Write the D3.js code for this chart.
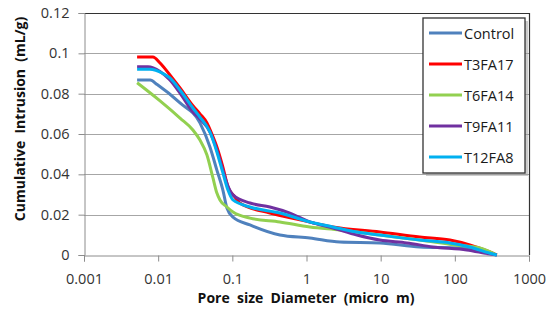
<!DOCTYPE html>
<html>
<head>
<meta charset="utf-8">
<script src="https://cdn.jsdelivr.net/npm/d3@7"></script>
<style>
  body { margin: 0; background: #fff; }
  text { font-family: "Open Sans", "Noto Sans", sans-serif; white-space: pre; }
</style>
</head>
<body>
<script>
// series names and colours
var names = ['Control', 'T3FA17', 'T6FA14', 'T9FA11', 'T12FA8'];
var colors = ['#4F81BD', '#FF0000', '#92D050', '#7030A0', '#00B0F0'];

// pore diameter (micro m) and cumulative intrusion (mL/g)
var control = [[0.0052, 0.0868], [0.0078, 0.0868], [0.0097, 0.0845], [0.0197, 0.0754], [0.0366, 0.0655],
  [0.0499, 0.0536], [0.0619, 0.0421], [0.0746, 0.0322], [0.0845, 0.0233], [0.102, 0.0188],
  [0.173, 0.0149], [0.438, 0.0099], [1.11, 0.0084], [2.82, 0.0064], [9.75, 0.0060],
  [33.7, 0.0040], [117, 0.0035], [296, 0.0010], [368, 0]];
var t3fa17 = [[0.0052, 0.0982], [0.0085, 0.0982], [0.0106, 0.0952], [0.0144, 0.0893], [0.0197, 0.0828],
  [0.0294, 0.0740], [0.0366, 0.0700], [0.0455, 0.0655], [0.0530, 0.0600], [0.0619, 0.0536],
  [0.0746, 0.0436], [0.0873, 0.0337], [0.108, 0.0288], [0.126, 0.0258], [0.321, 0.0208],
  [0.815, 0.0174], [2.27, 0.0139], [9.75, 0.0114], [33.7, 0.0089], [85.7, 0.0074],
  [159, 0.0050], [296, 0.0015], [368, 0]];
var t6fa14 = [[0.0052, 0.0854], [0.0106, 0.0764], [0.0197, 0.0679], [0.0294, 0.0620], [0.0366, 0.0570],
  [0.0455, 0.0496], [0.0548, 0.0382], [0.0619, 0.0307], [0.0681, 0.0273], [0.0845, 0.0238],
  [0.102, 0.0213], [0.173, 0.0183], [0.438, 0.0164], [1.11, 0.0139], [2.82, 0.0124],
  [9.75, 0.0099], [33.7, 0.0074], [100, 0.0050], [217, 0.0035], [368, 0]];
var t9fa11 = [[0.0052, 0.0934], [0.0073, 0.0934], [0.0106, 0.0910], [0.0144, 0.0868], [0.0197, 0.0803],
  [0.0294, 0.0709], [0.0366, 0.0674], [0.0499, 0.0610], [0.0619, 0.0521], [0.0746, 0.0421],
  [0.0873, 0.0342], [0.102, 0.0298], [0.173, 0.0258], [0.321, 0.0238], [0.597, 0.0208],
  [1.11, 0.0164], [2.27, 0.0134], [4.78, 0.0099], [9.75, 0.0074], [22.5, 0.0060],
  [50.5, 0.0040], [145, 0.0025], [296, 0.0005], [368, 0]];
var t12fa8 = [[0.0052, 0.0921], [0.0077, 0.0921], [0.0116, 0.0900], [0.0144, 0.0878], [0.0197, 0.0818],
  [0.0294, 0.0729], [0.0366, 0.0684], [0.0499, 0.0610], [0.0619, 0.0511], [0.0746, 0.0407],
  [0.0873, 0.0322], [0.102, 0.0273], [0.173, 0.0238], [0.438, 0.0208], [1.11, 0.0164],
  [2.27, 0.0139], [4.78, 0.0114], [9.75, 0.0099], [33.7, 0.0074], [85.7, 0.0060],
  [159, 0.0040], [325, 0.0005], [368, 0]];
var series = [control, t3fa17, t6fa14, t9fa11, t12fa8];

// tick values
var xTicks = [0.001, 0.01, 0.1, 1, 10, 100, 1000];
var yTicks = [0, 0.02, 0.04, 0.06, 0.08, 0.1, 0.12];

var w = 558, h = 320;
var pLeft = 84, pRight = 529, pTop = 13, pBottom = 255;

var svg = d3.select('body').append('svg')
    .attr('width', w)
    .attr('height', h);

var x = d3.scaleLog().domain([0.001, 1000]).range([pLeft, pRight]);
var y = d3.scaleLinear().domain([0, 0.12]).range([pBottom, pTop]);

// gridlines
svg.selectAll('line.grid')
    .data(yTicks.slice(1, -1))
    .enter()
    .append('line')
    .attr('x1', pLeft).attr('x2', pRight)
    .attr('y1', function(d){ return Math.round(y(d)) + 0.5; })
    .attr('y2', function(d){ return Math.round(y(d)) + 0.5; })
    .attr('stroke', '#a6a6a6')
    .attr('stroke-width', 1);

// plot frame top / right
svg.append('path')
    .attr('d', 'M' + pLeft + ',' + (pTop + 0.5) + 'H' + (pRight + 0.5) + 'V' + pBottom)
    .attr('fill', 'none')
    .attr('stroke', '#333')
    .attr('stroke-width', 1.2);

// axes
var yAxis = d3.axisLeft(y).tickValues(yTicks).tickSize(6).tickPadding(9)
    .tickFormat(function(d){ return String(+d.toFixed(2)); });
var xAxis = d3.axisBottom(x).tickValues(xTicks).tickSize(6).tickPadding(12)
    .tickFormat(function(d){ return String(+d.toPrecision(1)); });

var gy = svg.append('g').attr('transform', 'translate(' + (pLeft + 0.5) + ',0)').call(yAxis);
var gx = svg.append('g').attr('transform', 'translate(0,' + (pBottom + 0.5) + ')').call(xAxis);
[gx, gy].forEach(function(g){
    g.select('.domain').attr('stroke', '#8c8c8c');
    g.selectAll('.tick line').attr('stroke', '#8c8c8c');
    g.selectAll('.tick text').attr('fill', '#333').attr('font-size', '14.5px')
        .attr('font-family', '"Open Sans", "Noto Sans", sans-serif');
});

// curves
var line = d3.line()
    .x(function(d){ return x(d[0]); })
    .y(function(d){ return y(d[1]); })
    .curve(d3.curveMonotoneX);

svg.selectAll('path.series')
    .data(series)
    .enter()
    .append('path')
    .attr('class', 'series')
    .attr('d', line)
    .attr('fill', 'none')
    .attr('stroke', function(d, i){ return colors[i]; })
    .attr('stroke-width', 3)
    .attr('stroke-linejoin', 'round');

// axis titles
svg.append('text')
    .attr('x', 306)
    .attr('y', 303)
    .attr('text-anchor', 'middle')
    .attr('font-size', '14px')
    .attr('font-weight', 'bold')
    .attr('fill', '#111')
    .text('Pore  size  Diameter  (micro  m)');

svg.append('text')
    .attr('transform', 'translate(25,119) rotate(-90)')
    .attr('text-anchor', 'middle')
    .attr('font-size', '14px')
    .attr('font-weight', 'bold')
    .attr('fill', '#111')
    .text('Cumulative  Intrusion  (mL/g)');

// legend
var lg = svg.append('g').attr('transform', 'translate(423,18)');
lg.append('rect')
    .attr('x', 3).attr('y', 3).attr('width', 102).attr('height', 155)
    .attr('fill', '#999').attr('opacity', 0.5);
lg.append('rect')
    .attr('x', 0).attr('y', 0).attr('width', 102).attr('height', 155)
    .attr('fill', '#fff').attr('stroke', '#333').attr('stroke-width', 1.3);

var items = lg.selectAll('g.item')
    .data(names)
    .enter()
    .append('g')
    .attr('transform', function(d, i){ return 'translate(0,' + (15 + i * 31) + ')'; });
items.append('line')
    .attr('x1', 6).attr('x2', 39)
    .attr('stroke', function(d, i){ return colors[i]; })
    .attr('stroke-width', 3);
items.append('text')
    .attr('x', 41).attr('y', 5.5)
    .attr('font-size', '14.5px')
    .attr('fill', '#1a1a1a')
    .text(function(d){ return d; });
</script>
</body>
</html>
